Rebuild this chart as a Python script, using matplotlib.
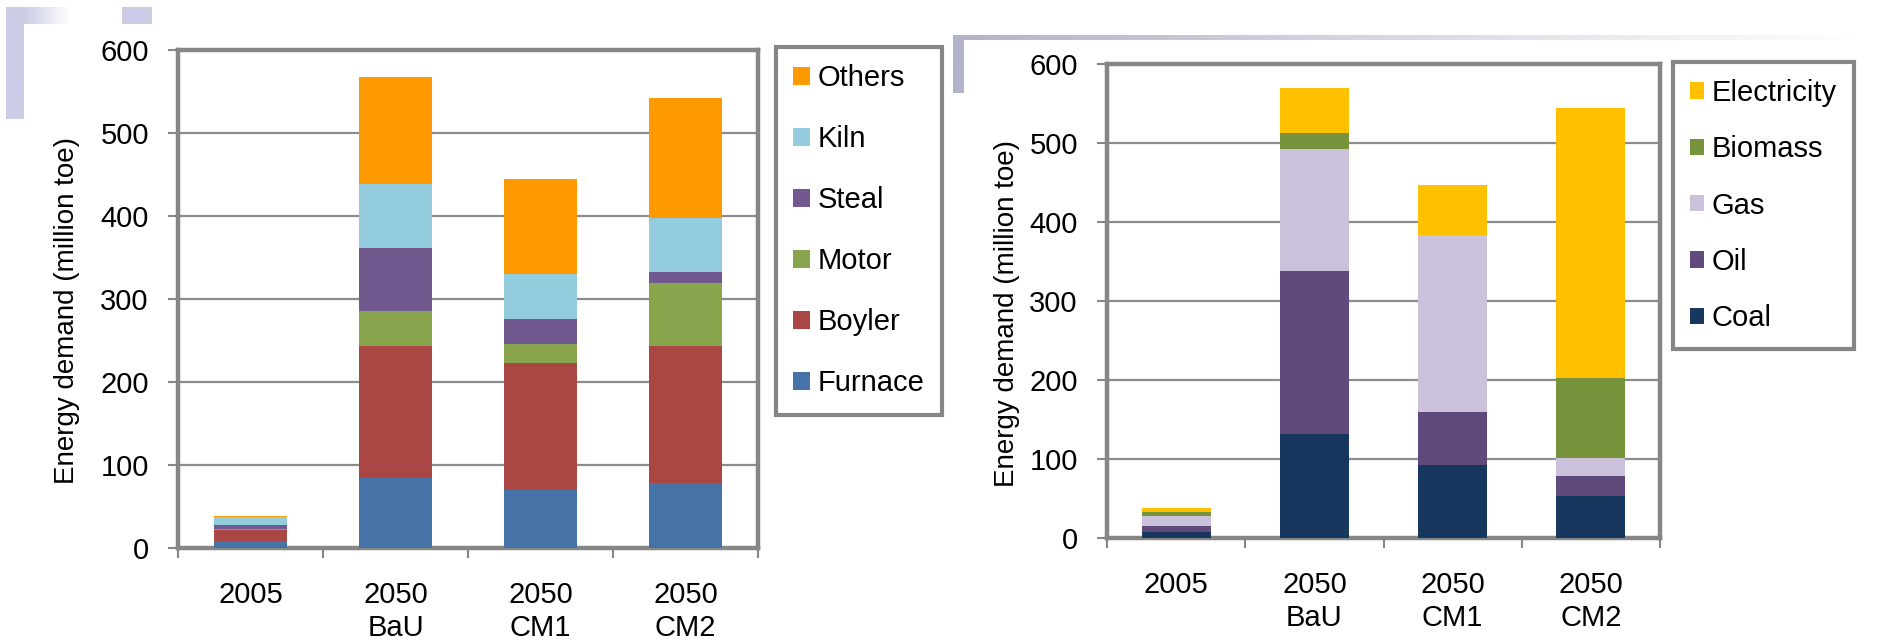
import numpy as np
import matplotlib.pyplot as plt
from matplotlib.colors import LinearSegmentedColormap

plt.rcParams['font.family'] = ['Liberation Sans', 'DejaVu Sans']

categories = ['2005', '2050\nBaU', '2050\nCM1', '2050\nCM2']

# end-use breakdown (million toe)
furnace = [8, 84, 70, 78]
boyler = [14, 159, 153, 165]
motor = [1, 43, 23, 76]
steal = [5, 75, 30, 14]
kiln = [9, 78, 54, 64]
others = [2, 129, 114, 145]

# fuel breakdown (million toe)
coal = [7, 132, 93, 53]
oil = [8.5, 206, 67, 25]
gas = [12, 155, 223, 23]
biomass = [5.5, 20, 0, 101]
electricity = [5.5, 56, 64, 342]

left_series = [('Furnace', furnace, '#4572A7'), ('Boyler', boyler, '#AA4643'),
               ('Motor', motor, '#89A54E'), ('Steal', steal, '#71588F'),
               ('Kiln', kiln, '#93CDDD'), ('Others', others, '#FF9900')]
right_series = [('Coal', coal, '#17375E'), ('Oil', oil, '#604A7B'),
                ('Gas', gas, '#CCC1DA'), ('Biomass', biomass, '#77933C'),
                ('Electricity', electricity, '#FFC000')]

W, H = 1883, 644
fig = plt.figure(figsize=(W / 100, H / 100), dpi=100)
GRAY = '#868686'


def px_axes(x0, y0, x1, y1):
    return fig.add_axes([x0 / W, 1 - y1 / H, (x1 - x0) / W, (y1 - y0) / H])


def gradient_bar(x0, y0, x1, y1, color, fade=True):
    a = px_axes(x0, y0, x1, y1)
    a.set_axis_off()
    cmap = LinearSegmentedColormap.from_list('g', [color, 'white' if fade else color])
    a.imshow(np.linspace(0, 1, 256)[None, :], cmap=cmap, aspect='auto')


# slide decorations
gradient_bar(6, 7, 24, 119, '#CCCCE6', fade=False)
gradient_bar(24, 7, 70, 24, '#CCCCE6')
gradient_bar(122, 7, 152, 24, '#CCCCE6', fade=False)
gradient_bar(953, 35, 963, 93, '#B3B3CC', fade=False)
gradient_bar(963, 35, 1860, 40, '#B3B3CC')


def draw(ax, series, legend_xy, handle, spacing, pad):
    x = np.arange(len(categories))
    bottom = np.zeros(len(categories))
    handles = []
    for name, vals, col in series:
        b = ax.bar(x, vals, 0.5, bottom=bottom, color=col, label=name, linewidth=0, zorder=3)
        handles.append(b)
        bottom += np.array(vals)
    ax.set_ylim(0, 600)
    ax.set_xlim(-0.5, 3.5)
    ax.set_yticks(range(0, 601, 100))
    ax.yaxis.grid(True, color='#8C8C8C', lw=1.6)
    ax.set_axisbelow(True)
    for s in ax.spines.values():
        s.set_color(GRAY)
        s.set_linewidth(3.2)
    ax.set_xticks(np.arange(-0.5, 4, 1))
    ax.set_xticklabels([])
    ax.set_xticks(x, minor=True)
    ax.set_xticklabels(categories, minor=True)
    ax.tick_params(axis='x', which='major', length=7, width=1.5, color=GRAY)
    ax.tick_params(axis='x', which='minor', length=0, pad=24, labelsize=21)
    ax.tick_params(axis='y', length=7, width=1.5, color=GRAY, pad=14, labelsize=21)
    ax.set_ylabel('Energy demand (million toe)', fontsize=20)
    leg = ax.legend(handles[::-1], [s[0] for s in series][::-1],
                    loc='upper left', bbox_to_anchor=(legend_xy[0] / W, 1 - legend_xy[1] / H),
                    bbox_transform=fig.transFigure, fontsize=21, fancybox=False,
                    edgecolor=GRAY, framealpha=1, borderpad=pad, borderaxespad=0,
                    handlelength=handle, handleheight=handle, handletextpad=0.27,
                    labelspacing=spacing)
    leg.get_frame().set_linewidth(3)
    return ax


ax1 = px_axes(178, 50, 758, 548)
draw(ax1, left_series, (776, 47), 0.55, 1.13, 0.6)
ax1.yaxis.set_label_coords(-0.169, 0.477)

ax2 = px_axes(1107, 64, 1660, 538)
draw(ax2, right_series, (1673, 62), 0.48, 0.97, 0.58)
ax2.yaxis.set_label_coords(-0.157, 0.474)

fig.savefig('out.png', dpi=100)
